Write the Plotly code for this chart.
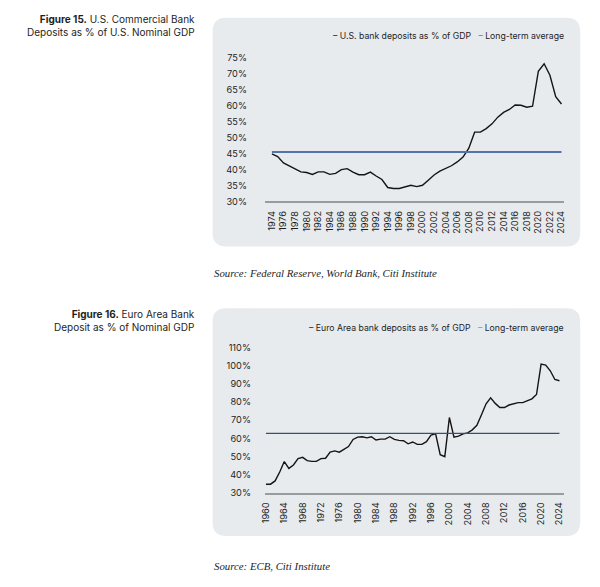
import plotly.graph_objects as go

W, H = 600, 587

# ---------------- data ----------------
us_years = list(range(1974, 2025))
us_deposits = [44.8, 44.0, 42.0, 41.1, 40.2, 39.2, 39.0, 38.4,
               39.2, 39.2, 38.4, 38.7, 39.9, 40.2, 39.1, 38.3, 38.3, 39.1,
               37.9, 36.8, 34.3, 34.0, 34.0, 34.4, 35.0, 34.6, 35.0, 36.6,
               38.2, 39.4, 40.2, 41.1, 42.3, 43.8, 46.6, 51.6, 51.6, 52.7,
               54.2, 56.3, 57.8, 58.7, 60.1, 60.0, 59.4, 59.7, 70.6, 73.0,
               69.4, 62.7, 60.4]
us_avg = 45.4
us_ticks = list(range(1974, 2025, 2))
us_yticks = list(range(30, 80, 5))
us_ylabels = [f"{v}%" for v in us_yticks]

ea_years = list(range(1960, 2025))
ea_deposits = [34.7, 34.7, 36.5, 41.4, 47.2, 43.4, 45.3, 48.8, 49.5, 47.7,
               47.3, 47.3, 48.8, 49.0, 52.4, 53.1, 52.4, 54.0, 55.5, 59.4,
               60.7, 60.9, 60.3, 60.9, 59.1, 59.6, 59.6, 60.9, 59.4, 58.9,
               58.7, 57.0, 58.0, 56.7, 56.7, 58.2, 61.8, 62.5, 51.0, 49.9,
               71.5, 60.7, 61.2, 62.5, 63.0, 64.7, 67.2, 73.0, 79.1, 82.4,
               79.3, 77.0, 77.0, 78.4, 79.1, 79.7, 79.7, 80.9, 81.8, 84.2,
               101.0, 100.4, 97.3, 92.5, 91.8]
ea_avg = 62.7
ea_ticks = list(range(1960, 2025, 4))
ea_yticks = list(range(30, 120, 10))
ea_ylabels = [f"{v}%" for v in ea_yticks]

# ---------------- styles ----------------
FONT = "Inter, Roboto, sans-serif"
SERIF = "Liberation Serif, DejaVu Serif, serif"
PANEL = "#e8ebee"
TXT = "#1e1e1e"


def px(x):
    return x / W


def py(y):
    return 1 - y / H


def rounded_rect(x0, y0, x1, y1, r):
    rx, ry = r / W, r / H
    X0, X1 = px(x0), px(x1)
    Y0, Y1 = py(y0), py(y1)  # Y0 top, Y1 bottom
    return (f"M{X0 + rx},{Y0} L{X1 - rx},{Y0} Q{X1},{Y0} {X1},{Y0 - ry} "
            f"L{X1},{Y1 + ry} Q{X1},{Y1} {X1 - rx},{Y1} "
            f"L{X0 + rx},{Y1} Q{X0},{Y1} {X0},{Y1 + ry} "
            f"L{X0},{Y0 - ry} Q{X0},{Y0} {X0 + rx},{Y0} Z")


fig = go.Figure()

fig.add_trace(go.Scatter(x=us_years, y=us_deposits, mode="lines",
                         line=dict(color="#141414", width=1.4),
                         name="U.S. bank deposits as % of GDP",
                         xaxis="x", yaxis="y", showlegend=False))
fig.add_trace(go.Scatter(x=[us_years[0], us_years[-1]], y=[us_avg, us_avg],
                         mode="lines", line=dict(color="#5572ad", width=2),
                         name="Long-term average",
                         xaxis="x", yaxis="y", showlegend=False))

fig.add_trace(go.Scatter(x=ea_years, y=ea_deposits, mode="lines",
                         line=dict(color="#141414", width=1.4),
                         name="Euro Area bank deposits as % of GDP",
                         xaxis="x2", yaxis="y2", showlegend=False))
fig.add_trace(go.Scatter(x=[ea_years[0], ea_years[-1]], y=[ea_avg, ea_avg],
                         mode="lines", line=dict(color="#3a4f78", width=1.3),
                         name="Long-term average",
                         xaxis="x2", yaxis="y2", showlegend=False))

axis_common = dict(showgrid=False, zeroline=False, ticks="",
                   tickfont=dict(family=FONT, size=9.2, color=TXT))

fig.update_layout(
    width=W, height=H,
    margin=dict(l=0, r=0, t=0, b=0),
    paper_bgcolor="white", plot_bgcolor="rgba(0,0,0,0)",
    showlegend=False,
    xaxis=dict(domain=[px(263), px(566)], range=[1972.8, 2024.5],
               tickvals=us_ticks, ticktext=[str(t) for t in us_ticks],
               tickangle=-90, showline=True,
               linecolor="#9b9b9b", linewidth=2, anchor="y",
               ticklabelstandoff=4, **axis_common),
    yaxis=dict(domain=[py(199), py(52.3)], range=[30, 75],
               tickvals=us_yticks, ticktext=us_ylabels, showline=False,
               anchor="x", ticklabelstandoff=17, **axis_common),
    xaxis2=dict(domain=[px(263), px(566)], range=[1959.78, 2025.08],
                tickvals=ea_ticks, ticktext=[str(t) for t in ea_ticks],
                tickangle=-90, showline=True,
                linecolor="#9b9b9b", linewidth=2, anchor="y2",
                ticklabelstandoff=4, **axis_common),
    yaxis2=dict(domain=[py(496), py(348.3)], range=[30, 110],
                tickvals=ea_yticks, ticktext=ea_ylabels, showline=False,
                anchor="x2", ticklabelstandoff=13, **axis_common),
)

fig.update_layout(shapes=[
    dict(type="path", xref="paper", yref="paper", layer="below",
         path=rounded_rect(210, 12, 582, 245, 14), fillcolor=PANEL,
         line=dict(width=0)),
    dict(type="path", xref="paper", yref="paper", layer="below",
         path=rounded_rect(210, 308, 582, 540, 14), fillcolor=PANEL,
         line=dict(width=0)),
])

ann = []
# titles
ann.append(dict(xref="paper", yref="paper", x=px(194), y=py(5),
                xanchor="right", yanchor="top", align="right", showarrow=False,
                text="<b>Figure 15.</b> U.S. Commercial Bank<br>Deposits as % of U.S. Nominal GDP",
                font=dict(family=FONT, size=10, color=TXT)))
ann.append(dict(xref="paper", yref="paper", x=px(194), y=py(306),
                xanchor="right", yanchor="top", align="right", showarrow=False,
                text="<b>Figure 16.</b> Euro Area Bank<br>Deposit as % of Nominal GDP",
                font=dict(family=FONT, size=10, color=TXT)))
# legends
ann.append(dict(xref="paper", yref="paper", x=px(568), y=py(31),
                xanchor="right", yanchor="middle", showarrow=False,
                text=("<span style='color:#141414'>–</span> U.S. bank deposits as % of GDP"
                      "&nbsp;&nbsp; <span style='color:#5572ad'>–</span> Long-term average"),
                font=dict(family=FONT, size=8.7, color=TXT)))
ann.append(dict(xref="paper", yref="paper", x=px(568), y=py(328),
                xanchor="right", yanchor="middle", showarrow=False,
                text=("<span style='color:#141414'>–</span> Euro Area bank deposits as % of GDP"
                      "&nbsp;&nbsp; <span style='color:#6f92c2'>–</span> Long-term average"),
                font=dict(family=FONT, size=8.7, color=TXT)))
# sources
ann.append(dict(xref="paper", yref="paper", x=px(209), y=py(272),
                xanchor="left", yanchor="middle", showarrow=False,
                text="<i>Source: Federal Reserve, World Bank, Citi Institute</i>",
                font=dict(family=SERIF, size=10.8, color=TXT)))
ann.append(dict(xref="paper", yref="paper", x=px(209), y=py(571),
                xanchor="left", yanchor="middle", showarrow=False,
                text="<i>Source: ECB, Citi Institute</i>",
                font=dict(family=SERIF, size=10.8, color=TXT)))
fig.update_layout(annotations=ann)

fig.write_html("out.html", config={"displayModeBar": False},
               post_script="document.body.style.margin='0';")
